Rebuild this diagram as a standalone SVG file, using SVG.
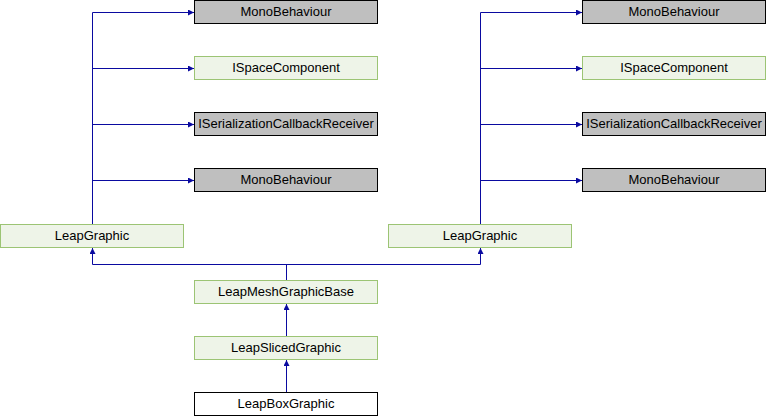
<svg xmlns="http://www.w3.org/2000/svg" width="766" height="416" viewBox="0 0 766 416">
<style>
.g rect{fill:#bfbfbf;stroke:#000;stroke-width:1}
.c rect{fill:#eef4e8;stroke:#9cc474;stroke-width:1}
.w rect{fill:#fff;stroke:#000;stroke-width:1}
text{font-family:"Liberation Sans",Arial,sans-serif;font-size:13px;text-anchor:middle;fill:#000}
.e path{fill:none;stroke:#0a0aa0;stroke-width:1}
.e path.a{marker-end:url(#ah)}
</style>
<defs>
<marker id="ah" markerWidth="6" markerHeight="6" refX="6" refY="3" orient="auto" markerUnits="userSpaceOnUse">
<path d="M0,0 L6,3 L0,6 z" fill="#0a0aa0" stroke="none"/>
</marker>
</defs>
<rect width="766" height="416" fill="#fff"/>
<g class="e" id="connectors">
<path d="M92.5,224 V12.5"/>
<path class="a" d="M92.5,12.5 H194"/>
<path class="a" d="M92.5,68.5 H194"/>
<path class="a" d="M92.5,124.5 H194"/>
<path class="a" d="M92.5,180.5 H194"/>
<path d="M480.5,224 V12.5"/>
<path class="a" d="M480.5,12.5 H582"/>
<path class="a" d="M480.5,68.5 H582"/>
<path class="a" d="M480.5,124.5 H582"/>
<path class="a" d="M480.5,180.5 H582"/>
<path d="M92.5,264.5 H480.5"/>
<path class="a" d="M92.5,264.5 V248"/>
<path class="a" d="M480.5,264.5 V248"/>
<path d="M286.5,264.5 V280"/>
<path class="a" d="M286.5,336 V304"/>
<path class="a" d="M286.5,392 V360"/>
</g>
<g id="n_mono1" class="g"><rect x="194.5" y="0.5" width="183" height="23"/><text x="286" y="16">MonoBehaviour</text></g>
<g id="n_ispace1" class="c"><rect x="194.5" y="56.5" width="183" height="23"/><text x="286" y="72">ISpaceComponent</text></g>
<g id="n_iser1" class="g"><rect x="194.5" y="112.5" width="183" height="23"/><text x="286" y="128">ISerializationCallbackReceiver</text></g>
<g id="n_mono2" class="g"><rect x="194.5" y="168.5" width="183" height="23"/><text x="286" y="184">MonoBehaviour</text></g>
<g id="n_mono3" class="g"><rect x="582.5" y="0.5" width="183" height="23"/><text x="674" y="16">MonoBehaviour</text></g>
<g id="n_ispace2" class="c"><rect x="582.5" y="56.5" width="183" height="23"/><text x="674" y="72">ISpaceComponent</text></g>
<g id="n_iser2" class="g"><rect x="582.5" y="112.5" width="183" height="23"/><text x="674" y="128">ISerializationCallbackReceiver</text></g>
<g id="n_mono4" class="g"><rect x="582.5" y="168.5" width="183" height="23"/><text x="674" y="184">MonoBehaviour</text></g>
<g id="n_leapgraphic1" class="c"><rect x="0.5" y="224.5" width="183" height="23"/><text x="92" y="240">LeapGraphic</text></g>
<g id="n_leapgraphic2" class="c"><rect x="388.5" y="224.5" width="183" height="23"/><text x="480" y="240">LeapGraphic</text></g>
<g id="n_mesh" class="c"><rect x="194.5" y="280.5" width="183" height="23"/><text x="286" y="296">LeapMeshGraphicBase</text></g>
<g id="n_sliced" class="c"><rect x="194.5" y="336.5" width="183" height="23"/><text x="286" y="352">LeapSlicedGraphic</text></g>
<g id="n_box" class="w"><rect x="194.5" y="392.5" width="183" height="23"/><text x="286" y="408">LeapBoxGraphic</text></g>
</svg>
